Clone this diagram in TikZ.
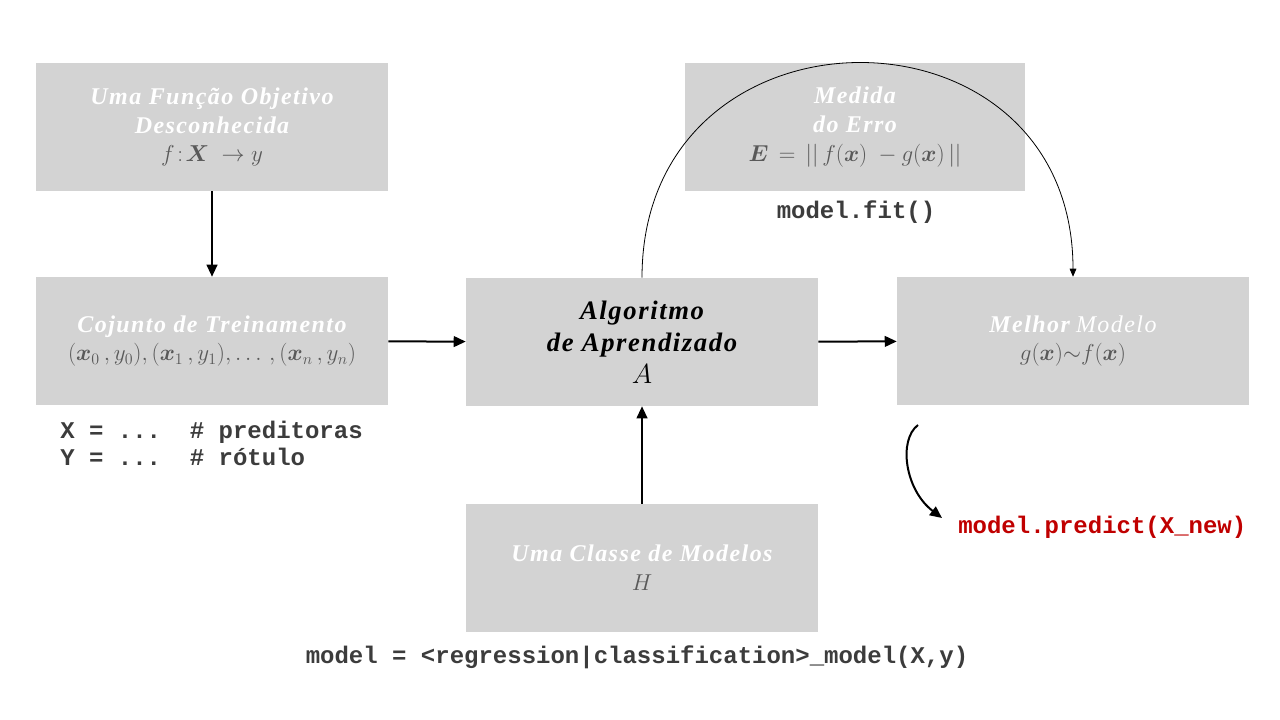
\documentclass[tikz,border=0pt]{standalone}
\usepackage{amsmath}
\usepackage{fontspec}
\setmainfont{Liberation Serif}
\setmonofont{Liberation Mono}
\newfontfamily\ttlfam{Liberation Serif}[LetterSpace=6]
\usetikzlibrary{arrows.meta}
\definecolor{boxgray}{RGB}{211,211,211}
\definecolor{mathgray}{RGB}{89,89,89}
\definecolor{codegray}{RGB}{60,60,60}
\definecolor{codered}{RGB}{192,0,0}
\newcommand{\bvx}{\boldsymbol{x}}
\newcommand{\ttl}[1]{{\color{white}\ttlfam\bfseries\itshape #1}}
\begin{document}
\begin{tikzpicture}[x=0.75pt,y=-0.75pt,
  box/.style={fill=boxgray, minimum width=264pt, minimum height=96pt, inner sep=0pt,
    align=center, text=mathgray, font=\fontsize{18}{21.5}\selectfont},
  flow/.style={line width=1.5pt, -{Triangle[length=9pt,width=8pt]}},
  loop/.style={line width=0.6pt, -{Triangle[length=6pt,width=5pt]}},
  code/.style={font=\fontsize{18}{20.25}\selectfont\ttfamily\bfseries, text=codegray, inner sep=0pt}
]
\useasboundingbox (0,0) rectangle (1280,720);
\fill[white] (0,0) rectangle (1280,720);

\node[box] (obj) at (212,127) {\ttl{Uma Função Objetivo}\\\ttl{Desconhecida}\\ $f\!:\!\boldsymbol{X}\ \to y$};
\node[box] (train) at (212,341) {\ttl{Cojunto de Treinamento}\\ $(\bvx_0\,, y_0), (\bvx_1\,, y_1), \ldots\,, (\bvx_n\,, y_n)$};
\node[box, text=black, font=\fontsize{20}{24}\selectfont] (algo) at (642,342) {{\ttlfam\bfseries\itshape Algoritmo}\\{\ttlfam\bfseries\itshape de Aprendizado}\\ $A$};
\node[box, minimum width=255pt] (err) at (855,127) {\ttl{Medida}\\\ttl{do Erro}\\ $\boldsymbol{E}\,=\,||\,f(\bvx)\ -g(\bvx)\,||$};
\node[box] (best) at (1073,341) {\ttl{Melhor} {\color{white}\ttlfam\itshape Modelo}\\ $g(\bvx){\sim}f(\bvx)$};
\node[box] (cls) at (642,568) {\ttl{Uma Classe de Modelos}\\ $H$};

\node[code, anchor=west, align=left] (vars) at (60,443) {X = ...\ \ \# preditoras\\Y = ...\ \ \# rótulo};
\node[code] (fit) at (856,212) {model.fit()};
\node[code] (mdl) at (637,657) {model = <regression|classification>\_model(X,y)};
\node[code, text=codered, anchor=west] (pred) at (958,527) {model.predict(X\_new)};

\draw[flow] (obj) -- (train);
\draw[flow] (train) -- (algo);
\draw[flow] (algo) -- (best);
\draw[flow] (cls) -- (algo);
\draw[loop] (algo.north) .. controls +(0,-285) and +(0,-285) .. (best.north);
\coordinate (cs) at (918,425);
\coordinate (ce) at (942,518);
\draw[flow] (cs) .. controls (898,440) and (905,490) .. (ce);
\end{tikzpicture}
\end{document}
